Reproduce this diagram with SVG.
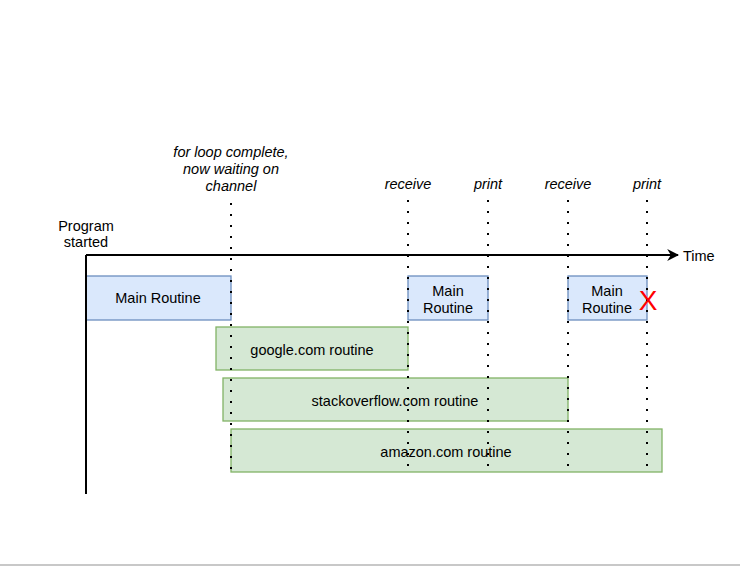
<svg xmlns="http://www.w3.org/2000/svg" width="740" height="566" viewBox="0 0 740 566">
<defs>
<style>
text{font-family:"Liberation Sans",Arial,sans-serif;font-size:14.5px;fill:#000;}
.it{font-style:italic;}
.main{fill:#dae8fc;stroke:#6c8ebf;stroke-width:1.3;}
.go{fill:#d5e8d4;stroke:#82b366;stroke-width:1.3;}
.dot{stroke:#000;stroke-width:2;stroke-dasharray:2 9;fill:none;}
.axis{stroke:#000;stroke-width:2;fill:none;}
</style>
<marker id="arr" viewBox="0 0 10 10" refX="9" refY="5" markerWidth="6" markerHeight="6" orient="auto" markerUnits="strokeWidth">
<path d="M0,0 L10,5 L0,10 L3,5 z" fill="#000"/>
</marker>
</defs>
<rect width="740" height="566" fill="#fff"/>
<line x1="0" y1="565" x2="740" y2="565" stroke="#c8c8c8" stroke-width="2"/>
<g id="main1"><rect class="main" x="86" y="276" width="145" height="44"/><text x="158" y="303" text-anchor="middle">Main Routine</text></g>
<g id="main2"><rect class="main" x="408" y="276" width="80" height="44"/><text x="448" y="296" text-anchor="middle">Main</text><text x="448" y="313" text-anchor="middle">Routine</text></g>
<g id="main3"><rect class="main" x="568" y="276" width="79" height="44"/><text x="607" y="296" text-anchor="middle">Main</text><text x="607" y="313" text-anchor="middle">Routine</text></g>
<g id="google"><rect class="go" x="216" y="327" width="192" height="43"/><text x="312" y="355" text-anchor="middle">google.com routine</text></g>
<g id="stackoverflow"><rect class="go" x="223" y="378" width="345" height="43"/><text x="395" y="406" text-anchor="middle">stackoverflow.com routine</text></g>
<g id="amazon"><rect class="go" x="231" y="429" width="431" height="43"/><text x="446" y="457" text-anchor="middle">amazon.com routine</text></g>
<g id="connectors">
<line class="axis" x1="86" y1="494" x2="86" y2="255"/>
<line class="axis" x1="86" y1="255" x2="678" y2="255" marker-end="url(#arr)"/>
<line class="dot" x1="231" y1="203" x2="231" y2="473"/>
<line class="dot" x1="408" y1="200" x2="408" y2="473"/>
<line class="dot" x1="488" y1="200" x2="488" y2="473"/>
<line class="dot" x1="568" y1="200" x2="568" y2="473"/>
<line class="dot" x1="647" y1="200" x2="647" y2="473"/>
</g>
<g id="labels">
<text class="it" x="231" y="157" text-anchor="middle">for loop complete,</text>
<text class="it" x="231" y="174" text-anchor="middle">now waiting on</text>
<text class="it" x="231" y="191" text-anchor="middle">channel</text>
<text x="86" y="231" text-anchor="middle">Program</text>
<text x="86" y="247" text-anchor="middle">started</text>
<text class="it" x="408" y="189" text-anchor="middle">receive</text>
<text class="it" x="488" y="189" text-anchor="middle">print</text>
<text class="it" x="568" y="189" text-anchor="middle">receive</text>
<text class="it" x="647" y="189" text-anchor="middle">print</text>
<text x="683" y="261">Time</text>
<text x="648" y="310" text-anchor="middle" style="font-size:28px;fill:#ff0000;">X</text>
</g>
</svg>
